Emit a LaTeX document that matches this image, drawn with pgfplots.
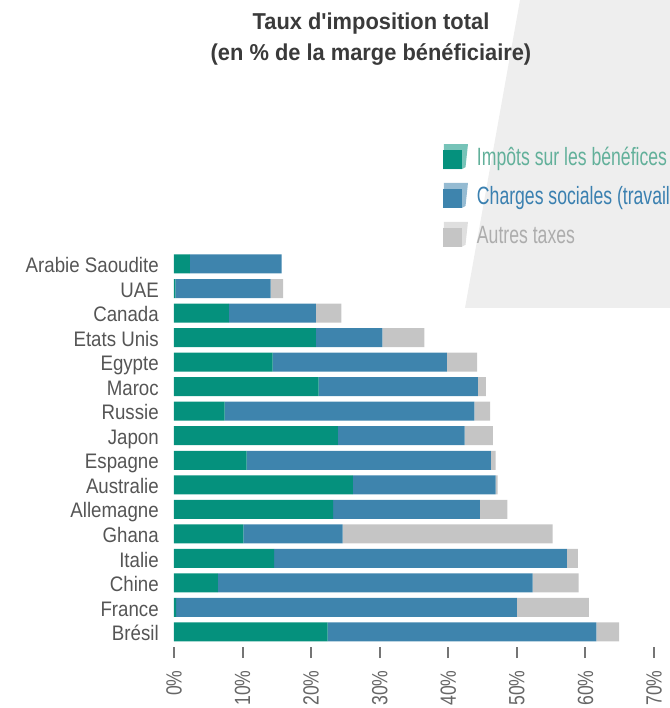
\documentclass[border=0pt]{standalone}
\usepackage{pgfplots}
\pgfplotsset{compat=1.18}
\usepackage{pgfplotstable}
\usepackage{fontspec}
\setmainfont{Liberation Sans}
\newfontfamily\titlefont{Liberation Sans Bold}[FakeStretch=0.95]
\newfontfamily\labfont{Liberation Sans}[FakeStretch=0.89]
\newfontfamily\tickfont{Liberation Sans}[FakeStretch=0.8]
\newfontfamily\legfont{Liberation Sans}[FakeStretch=0.705]
\definecolor{cgreen}{HTML}{05917D}
\definecolor{cblue}{HTML}{3E84AD}
\definecolor{cgray}{HTML}{C5C5C5}
\definecolor{tgreen}{HTML}{62B09A}
\definecolor{tblue}{HTML}{3A80B0}
\definecolor{tgray}{HTML}{ADADAD}
\definecolor{bgpoly}{HTML}{EEEEEE}
\definecolor{labcol}{HTML}{555555}
\definecolor{tickcol}{HTML}{666666}
\definecolor{titlecol}{HTML}{3A3A3A}

\pgfplotstableread{
y  profit labour other
0  22.4 39.2 3.3
1  0.3  49.7 10.5
2  6.4  45.9 6.7
3  14.6 42.7 1.6
4  10.1 14.5 30.6
5  23.2 21.4 4.0
6  26.1 20.8 0.3
7  10.6 35.6 0.7
8  23.9 18.5 4.1
9  7.4  36.4 2.3
10 21.1 23.2 1.2
11 14.4 25.4 4.4
12 20.7 9.7  6.1
13 8.0  12.7 3.7
14 0.2  13.9 1.8
15 2.3  13.4 0.0
}\datatable

\newcommand{\legsq}[1]{%
  \fill[#1!55] (0.75pt,11.6pt) -- (18.75pt,11.6pt) -- (16.9pt,-5.65pt) -- (14.25pt,-7.1pt) -- (0pt,-7.1pt) -- cycle;
  \fill[#1] (0pt,-7.1pt) rectangle (14.25pt,7.1pt);}

\begin{document}
\begin{tikzpicture}
\path[use as bounding box] (0,0) rectangle (502.5pt,531pt);
\fill[bgpoly] (390pt,531pt) -- (502.5pt,531pt) -- (502.5pt,300pt) -- (348.75pt,300pt) -- cycle;
\node[anchor=base, font=\titlefont\fontsize{17.25pt}{20pt}\selectfont, text=titlecol] at (278.25pt,509pt) {Taux d'imposition total};
\node[anchor=base, font=\titlefont\fontsize{17.25pt}{20pt}\selectfont, text=titlecol] at (278.25pt,485.6pt) {(en \% de la marge bénéficiaire)};
\begin{axis}[
  at={(130.5pt,45.6pt)}, anchor=south west,
  scale only axis, width=360pt, height=296.6pt,
  xbar stacked, bar width=14.25pt,
  xmin=0, xmax=70, ymin=-0.62, ymax=15.5,
  axis line style={draw=none},
  xtick={0,10,...,70},
  xticklabels={0\%,10\%,20\%,30\%,40\%,50\%,60\%,70\%},
  ytick={0,...,15},
  yticklabels={Brésil,France,Chine,Italie,Ghana,Allemagne,Australie,Espagne,Japon,Russie,Maroc,Egypte,Etats Unis,Canada,UAE,Arabie Saoudite},
  tick align=outside, major tick length=8.25pt,
  xtick pos=bottom, ytick pos=left,
  xtick style={draw=tickcol!90, line width=1.5pt},
  ytick style={draw=none},
  xticklabel style={rotate=90, anchor=east, inner sep=0pt, font=\tickfont\fontsize{16.5pt}{18pt}\selectfont, text=tickcol},
  xticklabel shift=9pt,
  yticklabel style={anchor=base east, inner sep=0pt, yshift=-6.5pt, font=\labfont\fontsize{15.75pt}{18pt}\selectfont, text=labcol},
  yticklabel shift=3pt,
  legend style={at={(axis description cs:0.5604,1.272)}, anchor=north west, draw=none, fill=none,
    inner sep=0pt, outer sep=0pt,
    font=\legfont\fontsize{18.75pt}{20pt}\selectfont,
    nodes={inner sep=0pt, text height=13.5pt, text depth=4pt},
    row sep=8.75pt, column sep=6.75pt},
  legend cell align=left,
]
\addplot[fill=cgreen, draw=none, legend image code/.code={\legsq{cgreen}}] table[x=profit, y=y] {\datatable};
\addlegendentry{\textcolor{tgreen}{Impôts sur les bénéfices}}
\addplot[fill=cblue, draw=none, legend image code/.code={\legsq{cblue}}] table[x=labour, y=y] {\datatable};
\addlegendentry{\textcolor{tblue}{Charges sociales (travail)}}
\addplot[fill=cgray, draw=none, legend image code/.code={\legsq{cgray}}] table[x=other, y=y] {\datatable};
\addlegendentry{\textcolor{tgray}{Autres taxes}}
\end{axis}
\end{tikzpicture}
\end{document}
